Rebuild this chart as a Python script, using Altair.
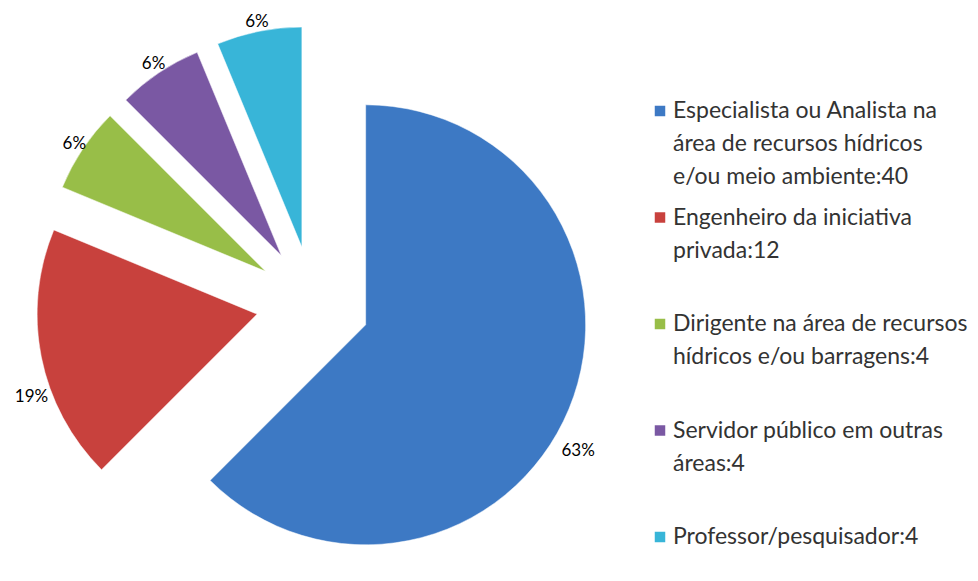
import altair as alt
import pandas as pd

categories = [
    "Especialista ou Analista na área de recursos hídricos e/ou meio ambiente",
    "Engenheiro da iniciativa privada",
    "Dirigente na área de recursos hídricos e/ou barragens",
    "Servidor público em outras áreas",
    "Professor/pesquisador",
]
legend_lines = [
    "Especialista ou Analista na\nárea de recursos hídricos\ne/ou meio ambiente",
    "Engenheiro da iniciativa\nprivada",
    "Dirigente na área de recursos\nhídricos e/ou barragens",
    "Servidor público em outras\náreas",
    "Professor/pesquisador",
]
values = [40, 12, 4, 4, 4]
colors = ["#3d79c4", "#c8413d", "#98be48", "#7a58a3", "#38b5d8"]

# layout constants (pixels)
CX, CY, R, EXPLODE, LABEL_R, LOW_SHIFT = 305, 295, 220, 57, 230, 38
LEG_X, LEG_Y0, LEG_STEP = 652, 103, 106.5
FONT = "Lato"

df = pd.DataFrame({"cat": categories, "legend": legend_lines,
                   "value": values, "order": list(range(len(values)))})

base = (
    alt.Chart(df)
    .transform_joinaggregate(total="sum(value)")
    .transform_window(cum="sum(value)", sort=[alt.SortField("order")])
    .transform_calculate(
        a1="2*PI*datum.cum/datum.total",
        a0="2*PI*(datum.cum-datum.value)/datum.total",
    )
    .transform_calculate(mid="(datum.a0+datum.a1)/2")
    .transform_calculate(
        px=f"{CX}+{EXPLODE}*sin(datum.mid)",
        py=f"{CY}-{EXPLODE}*cos(datum.mid)",
        lx=f"{CX}+({EXPLODE}+{LABEL_R})*sin(datum.mid)",
        ly=f"{CY}-({EXPLODE}+{LABEL_R})*cos(datum.mid) + (cos(datum.mid) < 0 ? {LOW_SHIFT} : 0)",
        pct="round(100*datum.value/datum.total)+'%'",
        legtext="datum.legend + ':' + datum.value",
        gy=f"{LEG_Y0}+{LEG_STEP}*datum.order",
    )
)

color = alt.Color("cat:N", scale=alt.Scale(domain=categories, range=colors), legend=None)

arcs = base.mark_arc(radius=R, stroke="#ffffff", strokeWidth=0.5).encode(
    theta=alt.Theta("a0:Q", scale=None),
    theta2=alt.Theta2("a1:Q"),
    x=alt.X("px:Q", scale=None),
    y=alt.Y("py:Q", scale=None),
    color=color,
    order=alt.Order("order:Q"),
)

labels = base.mark_text(font=FONT, fontSize=17, color="#000000", align="center", baseline="middle").encode(
    x=alt.X("lx:Q", scale=None),
    y=alt.Y("ly:Q", scale=None),
    text="pct:N",
)

squares = base.mark_square(size=110, opacity=1).encode(
    x=alt.value(LEG_X),
    y=alt.Y("gy:Q", scale=None),
    color=color,
)

leg_text = base.mark_text(font=FONT, fontSize=23, color="#333333", align="left",
                          baseline="middle", lineBreak="\n", lineHeight=33).encode(
    x=alt.value(LEG_X + 13),
    y=alt.Y("gy:Q", scale=None),
    text="legtext:N",
)

chart = alt.layer(arcs, labels, squares, leg_text).properties(
    width=962, height=565, padding=0,
    autosize=alt.AutoSizeParams(type="none"),
).configure_view(stroke=None)

chart.save("out.html", embed_options={"renderer": "svg", "actions": False})
